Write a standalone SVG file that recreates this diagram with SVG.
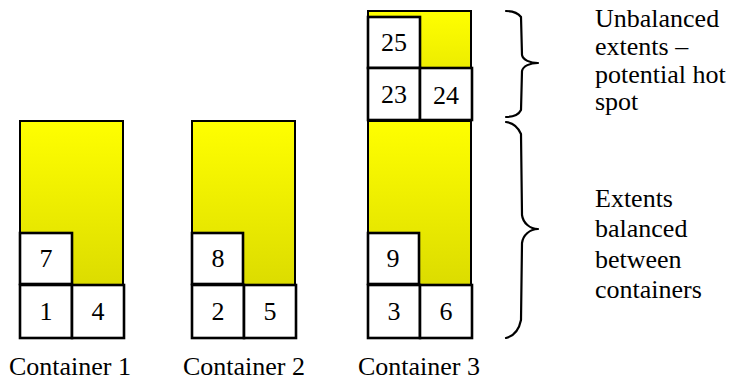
<svg xmlns="http://www.w3.org/2000/svg" width="730" height="380" viewBox="0 0 730 380">
  <defs>
    <linearGradient id="fillY" x1="0" y1="0" x2="0" y2="1">
      <stop offset="0" stop-color="#ffff00"/>
      <stop offset="1" stop-color="#dcdc00"/>
    </linearGradient>
    <style>
      .pool { fill: url(#fillY); stroke: #000; stroke-width: 2; }
      .ext { fill: #fff; stroke: #000; stroke-width: 2.6; }
      .num { font-family: "Liberation Serif", "Times New Roman", serif; font-size: 26px; fill: #000; text-anchor: middle; }
      .lbl { font-family: "Liberation Serif", "Times New Roman", serif; font-size: 26px; fill: #000; }
      .cap { font-family: "Liberation Serif", "Times New Roman", serif; font-size: 26px; fill: #000; text-anchor: middle; }
      .brace { fill: none; stroke: #000; stroke-width: 2.2; stroke-linecap: round; stroke-linejoin: round; }
    </style>
  </defs>

  <rect width="730" height="380" fill="#fff"/>

  <!-- Container 1 -->
  <g id="container1">
    <rect class="pool" x="20" y="121" width="103" height="164"/>
    <rect class="ext" x="20" y="233" width="52" height="51"/>
    <text class="num" x="46" y="267">7</text>
    <rect class="ext" x="20" y="285" width="52" height="53"/>
    <text class="num" x="46" y="320">1</text>
    <rect class="ext" x="72" y="285" width="52" height="53"/>
    <text class="num" x="98" y="320">4</text>
    <text class="cap" x="70" y="375">Container 1</text>
  </g>

  <!-- Container 2 -->
  <g id="container2">
    <rect class="pool" x="192" y="121" width="103" height="164"/>
    <rect class="ext" x="192" y="233" width="51" height="51"/>
    <text class="num" x="218" y="267">8</text>
    <rect class="ext" x="192" y="285" width="52" height="53"/>
    <text class="num" x="218" y="320">2</text>
    <rect class="ext" x="244" y="285" width="52" height="53"/>
    <text class="num" x="270" y="320">5</text>
    <text class="cap" x="244" y="375">Container 2</text>
  </g>

  <!-- Container 3 -->
  <g id="container3">
    <rect class="pool" x="368" y="11" width="103" height="109"/>
    <rect class="pool" x="368" y="121" width="103" height="164"/>
    <rect class="ext" x="368" y="17" width="52" height="51"/>
    <text class="num" x="394" y="51">25</text>
    <rect class="ext" x="368" y="68" width="52" height="52"/>
    <text class="num" x="394" y="103">23</text>
    <rect class="ext" x="420" y="68" width="52" height="52"/>
    <text class="num" x="446" y="104">24</text>
    <rect class="ext" x="368" y="233" width="51" height="51"/>
    <text class="num" x="393" y="267">9</text>
    <rect class="ext" x="368" y="285" width="52" height="53"/>
    <text class="num" x="394" y="320">3</text>
    <rect class="ext" x="420" y="285" width="52" height="53"/>
    <text class="num" x="446" y="320">6</text>
    <text class="cap" x="419" y="375">Container 3</text>
  </g>

  <!-- Braces -->
  <g id="connectors">
    <path class="brace" d="M506,11 C514,11 518,13 521,17 L522,55 C523,60 530,63 538,63 C530,63 523,66 522,71 L521,110 C519,114 514,117 506,117"/>
    <path class="brace" d="M506,122 C514,123 518,127 521,134 L522,215 C523,223 530,229 538,229 C530,229 523,235 522,243 L521,320 C519,330 514,336 506,338"/>
  </g>

  <!-- Annotations -->
  <g id="note-unbalanced">
    <text class="lbl" x="595" y="27">Unbalanced</text>
    <text class="lbl" x="595" y="55">extents –</text>
    <text class="lbl" x="595" y="83">potential hot</text>
    <text class="lbl" x="595" y="110">spot</text>
  </g>
  <g id="note-balanced">
    <text class="lbl" x="595" y="207">Extents</text>
    <text class="lbl" x="595" y="237">balanced</text>
    <text class="lbl" x="595" y="268">between</text>
    <text class="lbl" x="595" y="298">containers</text>
  </g>
</svg>
